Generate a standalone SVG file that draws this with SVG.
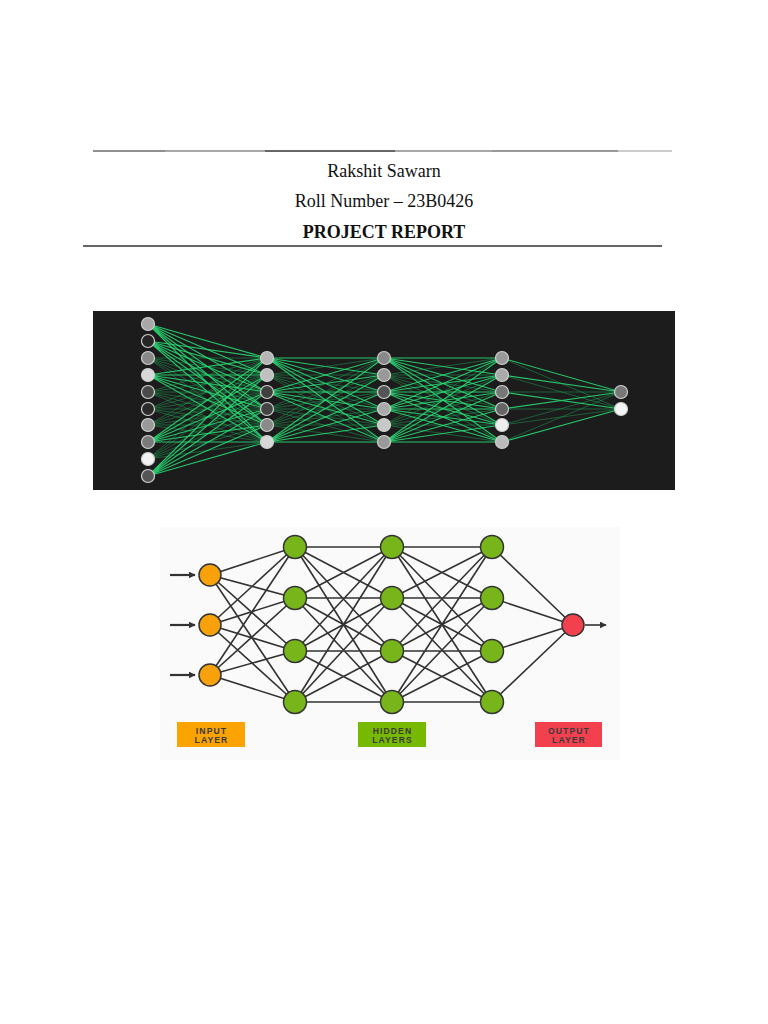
<svg xmlns="http://www.w3.org/2000/svg" width="768" height="1024" viewBox="0 0 768 1024">
<defs>
<style>
.hdr{font-family:"Liberation Serif","Times New Roman",serif;font-size:18px;fill:#111;text-anchor:middle}
.b{font-weight:bold}
.eb{stroke:#2ae077;stroke-width:1.1;fill:none;opacity:0.85}
.ed{stroke:#1fc063;stroke-width:0.9;fill:none;opacity:0.45}
.dn{stroke:#d0d0d0;stroke-width:1.2}
.e2{stroke:#333;stroke-width:1.6;fill:none}
.ar{stroke:#333;stroke-width:2.2;fill:none}
.n2{stroke:#333;stroke-width:1.5}
.lbl{font-family:"Liberation Sans",Arial,sans-serif;font-size:8.6px;font-weight:bold;letter-spacing:1.1px;fill:#3a3a3a;text-anchor:middle}
</style>
<marker id="ah" viewBox="0 0 10 10" refX="9" refY="5" markerWidth="7" markerHeight="7" orient="auto" markerUnits="userSpaceOnUse"><path d="M0 0L10 5L0 10z" fill="#333"/></marker>
</defs>
<rect width="768" height="1024" fill="#fff"/>
<!-- header -->
<g id="header">
<line x1="93" y1="151" x2="165" y2="151" stroke="#6a6a6a" stroke-width="1.6"/>
<line x1="165" y1="151" x2="265" y2="151" stroke="#8a8a8a" stroke-width="1.6"/>
<line x1="265" y1="151" x2="395" y2="151" stroke="#333" stroke-width="1.6"/>
<line x1="395" y1="151" x2="492" y2="151" stroke="#8a8a8a" stroke-width="1.6"/>
<line x1="492" y1="151" x2="618" y2="151" stroke="#777" stroke-width="1.6"/>
<line x1="618" y1="151" x2="672" y2="151" stroke="#bbb" stroke-width="1.6"/>
<text class="hdr" x="384" y="177">Rakshit Sawarn</text>
<text class="hdr" x="384" y="207">Roll Number – 23B0426</text>
<text class="hdr b" x="384" y="238">PROJECT REPORT</text>
<line x1="83" y1="246" x2="662" y2="246" stroke="#666" stroke-width="2"/>
</g>
<!-- diagram 1 -->
<rect x="93" y="311" width="582" height="179" fill="#1c1c1c"/>
<g id="connectors1">
<path class="eb" d="M148 324L267 358M148 324L267 375M148 324L267 392M148 324L267 409M148 324L267 425M148 324L267 442"/>
<path class="eb" d="M148 341L267 358M148 341L267 375M148 341L267 392M148 341L267 409M148 341L267 425M148 341L267 442"/>
<path class="ed" d="M148 358L267 358M148 358L267 375M148 358L267 392M148 358L267 409M148 358L267 425M148 358L267 442"/>
<path class="eb" d="M148 375L267 358M148 375L267 375M148 375L267 392M148 375L267 409M148 375L267 425M148 375L267 442"/>
<path class="ed" d="M148 392L267 358M148 392L267 375M148 392L267 392M148 392L267 409M148 392L267 425M148 392L267 442"/>
<path class="ed" d="M148 409L267 358M148 409L267 375M148 409L267 392M148 409L267 409M148 409L267 425M148 409L267 442"/>
<path class="ed" d="M148 425L267 358M148 425L267 375M148 425L267 392M148 425L267 409M148 425L267 425M148 425L267 442"/>
<path class="eb" d="M148 442L267 358M148 442L267 375M148 442L267 392M148 442L267 409M148 442L267 425M148 442L267 442"/>
<path class="ed" d="M148 459L267 358M148 459L267 375M148 459L267 392M148 459L267 409M148 459L267 425M148 459L267 442"/>
<path class="eb" d="M148 476L267 358M148 476L267 375M148 476L267 392M148 476L267 409M148 476L267 425M148 476L267 442"/>
<path class="eb" d="M267 358L384 358M267 358L384 375M267 358L384 392M267 358L384 409M267 358L384 425M267 358L384 442"/>
<path class="ed" d="M267 375L384 358M267 375L384 375M267 375L384 392M267 375L384 409M267 375L384 425M267 375L384 442"/>
<path class="eb" d="M267 392L384 358M267 392L384 375M267 392L384 392M267 392L384 409M267 392L384 425M267 392L384 442"/>
<path class="ed" d="M267 409L384 358M267 409L384 375M267 409L384 392M267 409L384 409M267 409L384 425M267 409L384 442"/>
<path class="ed" d="M267 425L384 358M267 425L384 375M267 425L384 392M267 425L384 409M267 425L384 425M267 425L384 442"/>
<path class="eb" d="M267 442L384 358M267 442L384 375M267 442L384 392M267 442L384 409M267 442L384 425M267 442L384 442"/>
<path class="eb" d="M384 358L502 358M384 358L502 375M384 358L502 392M384 358L502 409M384 358L502 425M384 358L502 442"/>
<path class="ed" d="M384 375L502 358M384 375L502 375M384 375L502 392M384 375L502 409M384 375L502 425M384 375L502 442"/>
<path class="eb" d="M384 392L502 358M384 392L502 375M384 392L502 392M384 392L502 409M384 392L502 425M384 392L502 442"/>
<path class="eb" d="M384 409L502 358M384 409L502 375M384 409L502 392M384 409L502 409M384 409L502 425M384 409L502 442"/>
<path class="ed" d="M384 425L502 358M384 425L502 375M384 425L502 392M384 425L502 409M384 425L502 425M384 425L502 442"/>
<path class="eb" d="M384 442L502 358M384 442L502 375M384 442L502 392M384 442L502 409M384 442L502 425M384 442L502 442"/>
<path class="eb" d="M502 358L621 392M502 442L621 409M502 392L621 409M502 409L621 392M502 375L621 392"/>
<path class="ed" d="M502 358L621 409M502 375L621 409M502 392L621 392M502 409L621 409M502 425L621 392M502 425L621 409M502 442L621 392"/>
</g>
<g id="layer1">
<circle class="dn" cx="148" cy="324" r="6.5" fill="#a8a8a8"/>
<circle class="dn" cx="148" cy="341" r="6.5" fill="#252525"/>
<circle class="dn" cx="148" cy="358" r="6.5" fill="#888"/>
<circle class="dn" cx="148" cy="375" r="6.5" fill="#d8d8d8"/>
<circle class="dn" cx="148" cy="392" r="6.5" fill="#4a4a4a"/>
<circle class="dn" cx="148" cy="409" r="6.5" fill="#2a2a2a"/>
<circle class="dn" cx="148" cy="425" r="6.5" fill="#999"/>
<circle class="dn" cx="148" cy="442" r="6.5" fill="#7a7a7a"/>
<circle class="dn" cx="148" cy="459" r="6.5" fill="#f2f2f2"/>
<circle class="dn" cx="148" cy="476" r="6.5" fill="#555"/>
</g>
<g id="layer2">
<circle class="dn" cx="267" cy="358" r="6.5" fill="#b5b5b5"/>
<circle class="dn" cx="267" cy="375" r="6.5" fill="#c0c0c0"/>
<circle class="dn" cx="267" cy="392" r="6.5" fill="#404040"/>
<circle class="dn" cx="267" cy="409" r="6.5" fill="#444"/>
<circle class="dn" cx="267" cy="425" r="6.5" fill="#8a8a8a"/>
<circle class="dn" cx="267" cy="442" r="6.5" fill="#d8d8d8"/>
</g>
<g id="layer3">
<circle class="dn" cx="384" cy="358" r="6.5" fill="#888"/>
<circle class="dn" cx="384" cy="375" r="6.5" fill="#999"/>
<circle class="dn" cx="384" cy="392" r="6.5" fill="#555"/>
<circle class="dn" cx="384" cy="409" r="6.5" fill="#aaa"/>
<circle class="dn" cx="384" cy="425" r="6.5" fill="#c8c8c8"/>
<circle class="dn" cx="384" cy="442" r="6.5" fill="#999"/>
</g>
<g id="layer4">
<circle class="dn" cx="502" cy="358" r="6.5" fill="#999"/>
<circle class="dn" cx="502" cy="375" r="6.5" fill="#aaa"/>
<circle class="dn" cx="502" cy="392" r="6.5" fill="#777"/>
<circle class="dn" cx="502" cy="409" r="6.5" fill="#666"/>
<circle class="dn" cx="502" cy="425" r="6.5" fill="#eee"/>
<circle class="dn" cx="502" cy="442" r="6.5" fill="#bbb"/>
</g>
<g id="layer5">
<circle class="dn" cx="621" cy="392" r="6.5" fill="#777"/>
<circle class="dn" cx="621" cy="409" r="6.5" fill="#f5f5f5"/>
</g>
<!-- diagram 2 -->
<rect x="160" y="527" width="460" height="233" fill="#fafafa"/>
<g id="connectors2">
<path class="e2" d="M210 575L295 547M210 575L295 598M210 575L295 651M210 575L295 702M210 625L295 547M210 625L295 598M210 625L295 651M210 625L295 702M210 675L295 547M210 675L295 598M210 675L295 651M210 675L295 702"/>
<path class="e2" d="M295 547L392 547M295 547L392 598M295 547L392 651M295 547L392 702M295 598L392 547M295 598L392 598M295 598L392 651M295 598L392 702M295 651L392 547M295 651L392 598M295 651L392 651M295 651L392 702M295 702L392 547M295 702L392 598M295 702L392 651M295 702L392 702"/>
<path class="e2" d="M392 547L492 547M392 547L492 598M392 547L492 651M392 547L492 702M392 598L492 547M392 598L492 598M392 598L492 651M392 598L492 702M392 651L492 547M392 651L492 598M392 651L492 651M392 651L492 702M392 702L492 547M392 702L492 598M392 702L492 651M392 702L492 702"/>
<path class="e2" d="M492 547L573 625M492 598L573 625M492 651L573 625M492 702L573 625"/>
<path class="ar" d="M170 575L195 575" marker-end="url(#ah)"/>
<path class="ar" d="M170 625L195 625" marker-end="url(#ah)"/>
<path class="ar" d="M170 675L195 675" marker-end="url(#ah)"/>
<path class="e2" d="M585 625L606 625" marker-end="url(#ah)"/>
</g>
<g id="input-layer">
<circle class="n2" cx="210" cy="575" r="11" fill="#f8a10a"/>
<circle class="n2" cx="210" cy="625" r="11" fill="#f8a10a"/>
<circle class="n2" cx="210" cy="675" r="11" fill="#f8a10a"/>
</g>
<g id="hidden-1">
<circle class="n2" cx="295" cy="547" r="11.5" fill="#78b51a"/>
<circle class="n2" cx="295" cy="598" r="11.5" fill="#78b51a"/>
<circle class="n2" cx="295" cy="651" r="11.5" fill="#78b51a"/>
<circle class="n2" cx="295" cy="702" r="11.5" fill="#78b51a"/>
</g>
<g id="hidden-2">
<circle class="n2" cx="392" cy="547" r="11.5" fill="#78b51a"/>
<circle class="n2" cx="392" cy="598" r="11.5" fill="#78b51a"/>
<circle class="n2" cx="392" cy="651" r="11.5" fill="#78b51a"/>
<circle class="n2" cx="392" cy="702" r="11.5" fill="#78b51a"/>
</g>
<g id="hidden-3">
<circle class="n2" cx="492" cy="547" r="11.5" fill="#78b51a"/>
<circle class="n2" cx="492" cy="598" r="11.5" fill="#78b51a"/>
<circle class="n2" cx="492" cy="651" r="11.5" fill="#78b51a"/>
<circle class="n2" cx="492" cy="702" r="11.5" fill="#78b51a"/>
</g>
<g id="output-node">
<circle class="n2" cx="573" cy="625" r="11" fill="#f2404f"/>
</g>
<g id="label-input">
<rect x="177" y="722" width="68" height="25" fill="#fba300"/>
<text class="lbl" x="211.5" y="734">INPUT</text>
<text class="lbl" x="211.5" y="743">LAYER</text>
</g>
<g id="label-hidden">
<rect x="358" y="722" width="68" height="25" fill="#76b900"/>
<text class="lbl" x="392.5" y="734">HIDDEN</text>
<text class="lbl" x="392.5" y="743">LAYERS</text>
</g>
<g id="label-output">
<rect x="535" y="722" width="67" height="25" fill="#f2404f"/>
<text class="lbl" x="569" y="734">OUTPUT</text>
<text class="lbl" x="569" y="743">LAYER</text>
</g>
</svg>
